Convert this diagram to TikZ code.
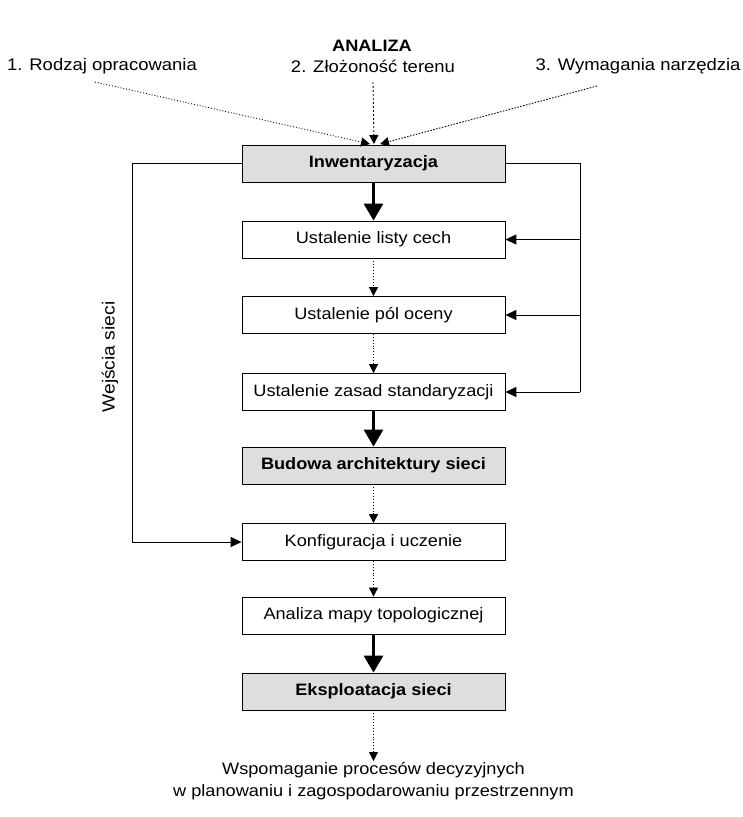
\documentclass[tikz,border=0pt]{standalone}
\usepackage{fontspec}
\setmainfont[FakeStretch=1.1]{Liberation Sans}
\usetikzlibrary{arrows.meta,calc}
\begin{document}
\begin{tikzpicture}[x=1pt,y=-1pt,
  every node/.style={font=\fontsize{16.5}{20}\selectfont},
  stepbox/.style={draw,line width=0.8pt,minimum width=263pt,minimum height=37pt,inner sep=0pt},
  graybox/.style={stepbox,fill=black!13,font=\fontsize{16.5}{20}\selectfont\bfseries},
  thick arrow/.style={line width=3pt,-{Triangle[length=17pt,width=19pt]}},
  dotarrow/.style={line width=0.9pt,dotted,-{Triangle[length=9pt,width=9pt]}},
  solidarrow/.style={line width=1pt,-{Triangle[length=11pt,width=10pt]}},
  toplabel/.style={font=\fontsize{16.8}{20}\selectfont}]
\useasboundingbox (0,0) rectangle (742,817);

\node[font=\fontsize{16.5}{20}\selectfont\bfseries] (title) at (372,46) {ANALIZA};
\node[toplabel] (l1) at (102,66) {1. Rodzaj opracowania};
\node[toplabel] (l2) at (373,66) {2. Złożoność terenu};
\node[toplabel] (l3) at (638,66) {3. Wymagania narzędzia};

\node[graybox] (inw) at (373.5,163.5) {Inwentaryzacja};
\node[stepbox] (listy) at (373.5,239.5) {Ustalenie listy cech};
\node[stepbox] (pol) at (373.5,315) {Ustalenie pól oceny};
\node[stepbox] (zas) at (373.5,392) {Ustalenie zasad standaryzacji};
\node[graybox] (bud) at (373.5,465.5) {Budowa architektury sieci};
\node[stepbox] (konf) at (373.5,542) {Konfiguracja i uczenie};
\node[stepbox] (anal) at (373.5,615.5) {Analiza mapy topologicznej};
\node[graybox] (eksp) at (373.5,691.5) {Eksploatacja sieci};

\node[align=center,inner sep=1pt,font=\fontsize{16.5}{22}\selectfont] (wsp) at (373.5,781)
  {Wspomaganie procesów decyzyjnych\\w planowaniu i zagospodarowaniu przestrzennym};

% top dotted inputs
\coordinate (s1) at (95,82);
\coordinate (s2) at (373,82);
\coordinate (s3) at (597,86);
\coordinate (e1) at (370,144);
\coordinate (e2) at (374,144);
\coordinate (e3) at (380,144);
\draw[dotarrow] (s1) -- (e1);
\draw[dotarrow,dash pattern=on 2pt off 2pt] (s2) -- (e2);
\draw[dotarrow,dash pattern=on 1.5pt off 1.5pt] (s3) -- (e3);

% main chain
\draw[thick arrow] (inw) -- (listy);
\draw[dotarrow] (listy) -- (pol);
\draw[dotarrow] (pol) -- (zas);
\draw[thick arrow] (zas) -- (bud);
\draw[dotarrow] (bud) -- (konf);
\draw[dotarrow] (konf) -- (anal);
\draw[thick arrow] (anal) -- (eksp);
\draw[dotarrow] (eksp) -- (wsp);

% left feedback
\coordinate (lt) at (132,163.5);
\draw[solidarrow] (inw.west) -- (lt) |- (konf.west);
\node[rotate=90,font=\fontsize{17.5}{20}\selectfont] (wej) at (110,357) {Wejścia sieci};

% right feedback
\coordinate (rt) at (580,163.5);
\draw[line width=1pt] (inw.east) -- (rt) -- (rt |- zas.east);
\draw[solidarrow] (rt |- listy.east) -- (listy.east);
\draw[solidarrow] (rt |- pol.east) -- (pol.east);
\draw[solidarrow] (rt |- zas.east) -- (zas.east);
\end{tikzpicture}
\end{document}
